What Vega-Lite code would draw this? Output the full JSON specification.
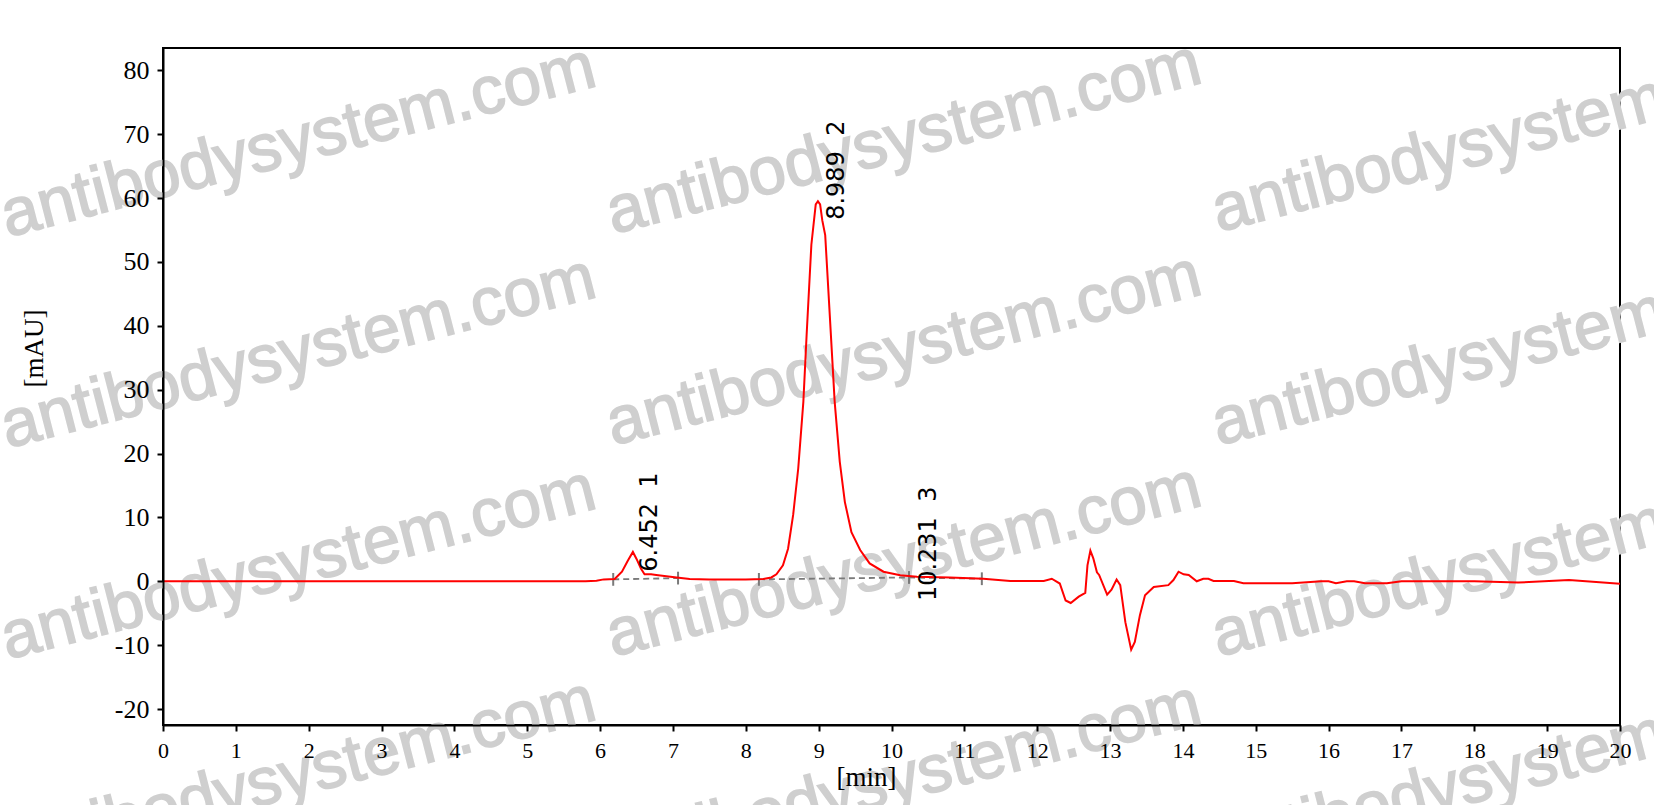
{
  "$schema": "https://vega.github.io/schema/vega-lite/v6.json",
  "width": 1457,
  "height": 677,
  "autosize": "none",
  "padding": {"left": 163, "top": 48, "right": 34, "bottom": 80},
  "background": "#ffffff",
  "config": {
    "view": {"stroke": "#000000", "strokeWidth": 2},
    "axis": {
      "labelFont": "Liberation Serif", "titleFont": "Liberation Serif",
      "labelFontSize": 22, "titleFontSize": 27, "titleFontWeight": "normal",
      "labelColor": "#000000", "titleColor": "#000000",
      "domainColor": "#000000", "domainWidth": 2,
      "tickColor": "#000000", "tickWidth": 2, "tickSize": 6,
      "grid": false, "labelFlush": false, "labelOverlap": false
    }
  },
  "encoding": {
    "x": {
      "field": "t", "type": "quantitative",
      "scale": {"domain": [0, 20], "nice": false, "zero": false},
      "axis": {
        "title": "[min]", "zindex": 2,
        "values": [0,1,2,3,4,5,6,7,8,9,10,11,12,13,14,15,16,17,18,19,20],
        "labelPadding": 9,
        "titleX": 703, "titleY": 60, "titleAlign": "center", "titleBaseline": "alphabetic"
      }
    },
    "y": {
      "field": "v", "type": "quantitative",
      "scale": {"domain": [-22.5, 83.5], "nice": false, "zero": false},
      "axis": {
        "title": "[mAU]", "zindex": 2,
        "values": [-20,-10,0,10,20,30,40,50,60,70,80],
        "labelExpr": "datum.value < 0 ? '-' + abs(datum.value) : '' + datum.value",
        "labelPadding": 8, "labelFontSize": 26,
        "titleAngle": -90, "titleX": -129, "titleY": 300, "titleAlign": "center", "titleBaseline": "middle"
      }
    }
  },
  "layer": [
    {
      "data": {"values": [
        {"t": 1.856, "v": 68.8}, {"t": 10.17, "v": 69.3}, {"t": 18.48, "v": 69.6},
        {"t": 1.856, "v": 35.75}, {"t": 10.17, "v": 36.2}, {"t": 18.48, "v": 36.2},
        {"t": 1.856, "v": 2.68}, {"t": 10.17, "v": 3.1}, {"t": 18.48, "v": 3.1},
        {"t": 1.856, "v": -30.4}, {"t": 10.17, "v": -31.0}, {"t": 18.48, "v": -30.0}
      ]},
      "mark": {"type": "text", "text": "antibodysystem.com", "font": "Liberation Sans", "fontSize": 67, "angle": -14.4, "align": "center", "baseline": "middle", "fill": "#cfcfcf", "stroke": "#cfcfcf", "strokeWidth": 1.6}
    },
    {
      "data": {"values": [
        {"seg": 1, "t": 6.18, "v": 0.3}, {"seg": 1, "t": 7.07, "v": 0.5},
        {"seg": 2, "t": 8.18, "v": 0.3}, {"seg": 2, "t": 10.24, "v": 0.6},
        {"seg": 3, "t": 10.24, "v": 0.6}, {"seg": 3, "t": 11.24, "v": 0.4}
      ]},
      "mark": {"type": "line", "color": "#7a7a7a", "strokeWidth": 1.8, "strokeDash": [6, 4]},
      "encoding": {"detail": {"field": "seg", "type": "nominal"}}
    },
    {
      "data": {"values": [
        {"t": 6.18, "v": -0.7, "v2": 1.3},
        {"t": 7.07, "v": -0.5, "v2": 1.5},
        {"t": 8.18, "v": -0.7, "v2": 1.3},
        {"t": 10.24, "v": -0.4, "v2": 1.6},
        {"t": 11.24, "v": -0.6, "v2": 1.4}
      ]},
      "mark": {"type": "rule", "color": "#7a7a7a", "strokeWidth": 2},
      "encoding": {"y2": {"field": "v2"}}
    },
    {
      "data": {"values": [
        {"t": 0, "v": 0}, {"t": 2, "v": 0}, {"t": 4, "v": 0}, {"t": 5.8, "v": 0},
        {"t": 5.95, "v": 0.1}, {"t": 6.05, "v": 0.3}, {"t": 6.2, "v": 0.35},
        {"t": 6.3, "v": 1.5}, {"t": 6.38, "v": 3.2}, {"t": 6.45, "v": 4.6},
        {"t": 6.5, "v": 3.5}, {"t": 6.56, "v": 2.0}, {"t": 6.61, "v": 1.1},
        {"t": 6.7, "v": 1.1}, {"t": 6.77, "v": 1.0}, {"t": 6.91, "v": 0.8},
        {"t": 7.05, "v": 0.6}, {"t": 7.23, "v": 0.35}, {"t": 7.5, "v": 0.3},
        {"t": 8.0, "v": 0.3}, {"t": 8.24, "v": 0.35}, {"t": 8.35, "v": 0.6},
        {"t": 8.42, "v": 1.1}, {"t": 8.51, "v": 2.5}, {"t": 8.58, "v": 5.1},
        {"t": 8.65, "v": 10.4}, {"t": 8.72, "v": 17.7}, {"t": 8.79, "v": 28.1},
        {"t": 8.835, "v": 38.6}, {"t": 8.9, "v": 52.7}, {"t": 8.96, "v": 59.0},
        {"t": 8.99, "v": 59.5}, {"t": 9.02, "v": 59.0}, {"t": 9.05, "v": 56.5},
        {"t": 9.09, "v": 54.2}, {"t": 9.155, "v": 41.2}, {"t": 9.22, "v": 28.1},
        {"t": 9.29, "v": 18.7}, {"t": 9.36, "v": 12.4}, {"t": 9.45, "v": 7.7},
        {"t": 9.57, "v": 4.9}, {"t": 9.7, "v": 2.8}, {"t": 9.89, "v": 1.5},
        {"t": 10.12, "v": 0.95}, {"t": 10.35, "v": 0.7}, {"t": 10.8, "v": 0.6},
        {"t": 11.26, "v": 0.4}, {"t": 11.63, "v": 0.06}, {"t": 12.09, "v": 0.06},
        {"t": 12.2, "v": 0.4}, {"t": 12.31, "v": -0.35}, {"t": 12.39, "v": -3.0},
        {"t": 12.46, "v": -3.4}, {"t": 12.57, "v": -2.4}, {"t": 12.66, "v": -1.8},
        {"t": 12.69, "v": 2.5}, {"t": 12.73, "v": 4.8}, {"t": 12.77, "v": 3.6},
        {"t": 12.82, "v": 1.4}, {"t": 12.85, "v": 1.0}, {"t": 12.96, "v": -2.1},
        {"t": 13.02, "v": -1.3}, {"t": 13.09, "v": 0.27}, {"t": 13.14, "v": -0.6},
        {"t": 13.21, "v": -6.4}, {"t": 13.29, "v": -10.7}, {"t": 13.34, "v": -9.5},
        {"t": 13.41, "v": -5.3}, {"t": 13.48, "v": -2.2}, {"t": 13.6, "v": -0.9},
        {"t": 13.8, "v": -0.6}, {"t": 13.87, "v": 0.2}, {"t": 13.94, "v": 1.5},
        {"t": 14.01, "v": 1.1}, {"t": 14.08, "v": 1.0}, {"t": 14.19, "v": 0.0},
        {"t": 14.28, "v": 0.4}, {"t": 14.35, "v": 0.4}, {"t": 14.42, "v": 0.06},
        {"t": 14.7, "v": 0.06}, {"t": 14.83, "v": -0.3}, {"t": 15.5, "v": -0.3},
        {"t": 15.9, "v": 0}, {"t": 16.0, "v": 0}, {"t": 16.1, "v": -0.3},
        {"t": 16.25, "v": 0}, {"t": 16.35, "v": 0}, {"t": 16.5, "v": -0.3},
        {"t": 16.8, "v": -0.3}, {"t": 17.0, "v": 0}, {"t": 18.0, "v": 0},
        {"t": 18.6, "v": -0.2}, {"t": 19.3, "v": 0.2}, {"t": 20, "v": -0.4}
      ]},
      "mark": {"type": "line", "color": "#ff0000", "strokeWidth": 2, "clip": true}
    },
    {
      "data": {"values": [
        {"t": 6.69, "v": 1.5, "label": "6.452\u00a0\u00a01"},
        {"t": 9.255, "v": 56.6, "label": "8.989\u00a0\u00a02"},
        {"t": 10.51, "v": -3.1, "label": "10.231\u00a0\u00a03"}
      ]},
      "mark": {"type": "text", "font": "DejaVu Sans", "fontSize": 24, "angle": -90, "align": "left", "baseline": "middle", "color": "#000000"},
      "encoding": {"text": {"field": "label", "type": "nominal"}}
    }
  ]
}
